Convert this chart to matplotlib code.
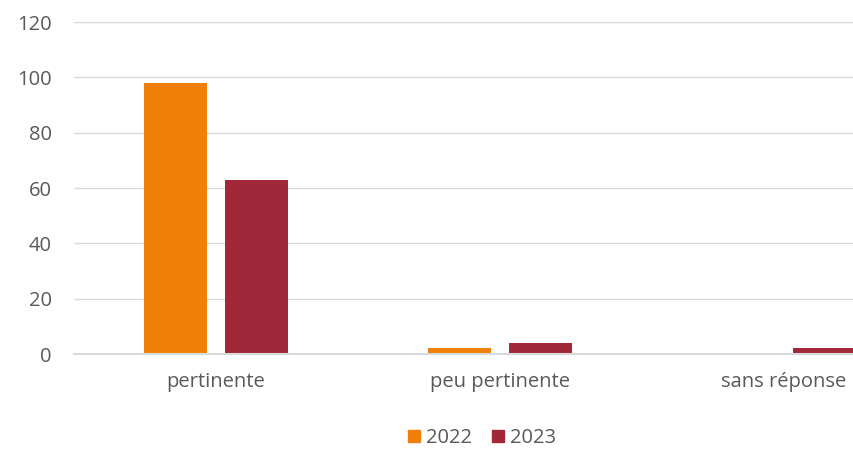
import matplotlib
matplotlib.use("Agg")
import matplotlib.pyplot as plt
import numpy as np
from matplotlib.patches import Patch

categories = ["pertinente", "peu pertinente", "sans réponse"]
values_2022 = [98, 2, 0]
values_2023 = [63, 4, 2]
series_labels = ["2022", "2023"]
yticks = [0, 20, 40, 60, 80, 100, 120]

c2022 = "#F0800A"
c2023 = "#A02838"
txt = "#595959"
grid = "#D9D9D9"

plt.rcParams['font.family'] = ['Open Sans', 'DejaVu Sans']
fs = 14.5

fig = plt.figure(figsize=(8.54, 4.49), dpi=100)
ax = fig.add_axes([74/854, 1-354/449, 852/854, 332/449])

x = np.arange(len(categories))
w = 0.222
off = 0.1435
ax.bar(x - off, values_2022, w, color=c2022, zorder=3)
ax.bar(x + off, values_2023, w, color=c2023, zorder=3)

ax.set_xlim(-0.5, 2.5)
ax.set_ylim(0, 120)
ax.set_yticks(yticks)
ax.set_yticklabels([str(t) for t in yticks], fontsize=fs, color=txt)
ax.set_xticks(x)
ax.set_xticklabels(categories, fontsize=fs, color=txt)
ax.tick_params(axis='both', length=0)
ax.tick_params(axis='y', pad=16)
ax.tick_params(axis='x', pad=13)
ax.grid(axis='y', color=grid, linewidth=1, zorder=0)
for s in ['top', 'right', 'left']:
    ax.spines[s].set_visible(False)
ax.spines['bottom'].set_color(grid)
ax.spines['bottom'].set_linewidth(1.5)
ax.spines['bottom'].set_zorder(4)

handles = [Patch(color=c2022), Patch(color=c2023)]
fig.legend(handles, series_labels, loc='center', bbox_to_anchor=(482/854, 1-438/449),
           ncol=2, frameon=False, fontsize=fs, labelcolor=txt,
           handlelength=0.6, handleheight=0.6, handletextpad=0.3, columnspacing=1.0)

fig.savefig("out.png", dpi=100)
